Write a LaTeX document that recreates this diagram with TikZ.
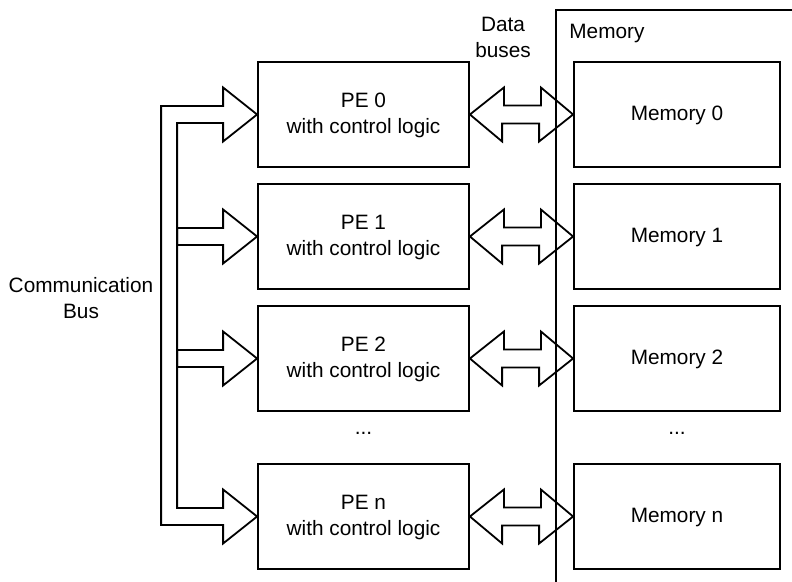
\documentclass[tikz,border=0pt]{standalone}
\usepackage{fontspec}
\setmainfont{Liberation Sans}
\usepackage{tikz}
\usetikzlibrary{positioning,calc}
\usepackage{xcolor}
\definecolor{lineblack}{RGB}{0,0,0}

\begin{document}
\begin{tikzpicture}[
  x=0.5pt,y=-0.5pt,
  pebox/.style={draw=lineblack,line width=0.9pt,align=center,minimum width=105.5pt,minimum height=52.5pt,inner sep=0pt,text depth=1.5pt,font=\fontsize{10.4}{13}\selectfont},
  membox/.style={draw=lineblack,line width=0.9pt,align=center,minimum width=103pt,minimum height=52.5pt,inner sep=0pt,text depth=1pt,font=\fontsize{10.4}{13}\selectfont},
  fat/.style={draw=lineblack,line width=0.9pt,line join=miter},
  lab/.style={align=center,inner sep=0pt,font=\fontsize{10.4}{13}\selectfont}
]
\useasboundingbox (0,0) rectangle (792,582);

% PE COLUMN
\node[pebox] (pe0) at (363.5,114.5) {PE 0\\with control logic};
\node[pebox] (pe1) at (363.5,236.5) {PE 1\\with control logic};
\node[pebox] (pe2) at (363.5,358.5) {PE 2\\with control logic};
\node[lab]   (pedots) at (363.5,433) {...};
\node[pebox] (pen) at (363.5,516.5) {PE n\\with control logic};

% MEMORY COLUMN
\node[membox] (mem0) at (677,114.5) {Memory 0};
\node[membox] (mem1) at (677,236.5) {Memory 1};
\node[membox] (mem2) at (677,358.5) {Memory 2};
\node[lab]    (memdots) at (677,433) {...};
\node[membox] (memn) at (677,516.5) {Memory n};

% labels
\node[lab] (commlab) at (81,298) {Communication\\Bus};
\node[lab] (datalab) at (503,37) {Data\\buses};
\node[lab,anchor=west] (memlab) at (569,34) {Memory};

% COMMUNICATION BUS: outer loop with PE 0 and PE n heads
\draw[fat] (pe0.west) -- ++(-34,-27) -- ++(0,18.5) -- ++(-62,0)
  |- ($(pen.west)+(-34,8.5)$) -- ++(0,18.5) -- (pen.west) -- ++(-34,-27)
  -- ++(0,18.5) -- ++(-46,0) |- ($(pe0.west)+(-34,8.5)$) -- ++(0,18.5) -- cycle;

% branches to PE 1 and PE 2
\foreach \p in {pe1,pe2}
  \draw[fat] (\p.west) -- ++(-34,-27) -- ++(0,18.5) -- ++(-46,0) -- ++(0,17)
    -- ++(46,0) -- ++(0,18.5) -- cycle;

% DATA BUSES: double arrows PE <-> memory
\foreach \p/\m in {pe0/mem0,pe1/mem1,pe2/mem2,pen/memn}
  \draw[fat] (\p.east) -- ++(34,-27) -- ++(0,18) -- ++(37,0) -- ++(0,-18)
    -- (\m.west) -- ++(-34,27) -- ++(0,-18) -- ++(-37,0) -- ++(0,18) -- cycle;

% memory area frame
\draw[fat] (556,582) -- (556,10) -- (792,10);

\end{tikzpicture}
\end{document}
